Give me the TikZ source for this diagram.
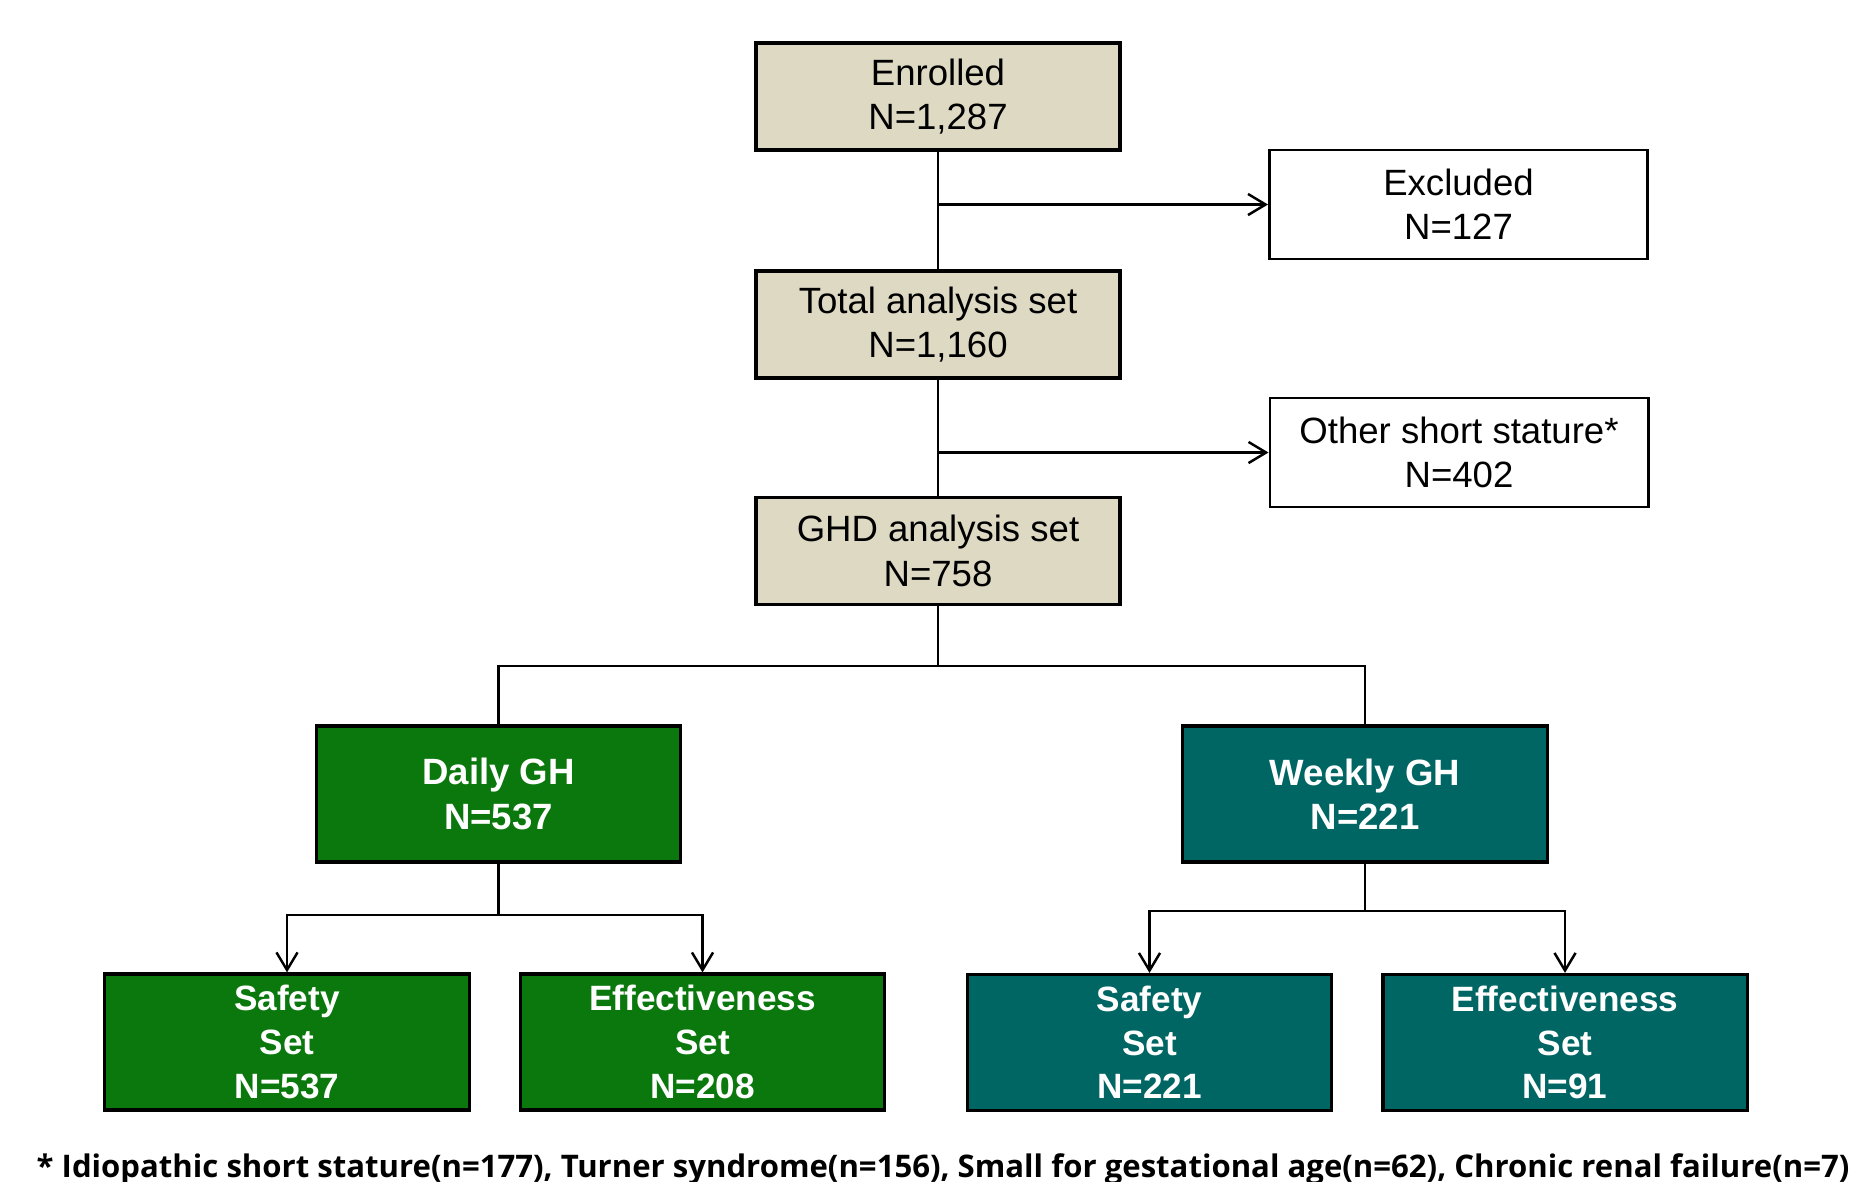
\documentclass[tikz,border=0pt]{standalone}
\usepackage{fontspec}
\setmainfont{Liberation Sans}
\newfontfamily\notefont{Open Sans}
\usetikzlibrary{arrows.meta}

\definecolor{boxtan}{HTML}{DDD9C3}
\definecolor{boxgreen}{RGB}{10,120,12}
\definecolor{boxteal}{RGB}{0,102,100}

\begin{document}
\begin{tikzpicture}[x=0.01cm,y=-0.01cm]
\useasboundingbox[fill=white] (0,0) rectangle (1858,1181);
\begin{scope}[every node/.style={rectangle,draw,line width=1pt,fill=boxtan,
              minimum width=3.64cm,minimum height=1.07cm,inner sep=0pt,
              align=center,font=\fontsize{10.4}{12.6}\selectfont}]
    \node (A1) at (938,96.5) {Enrolled\\N=1,287};
    \node (A2) at (938,324.5) {Total analysis set\\N=1,160};
    \node (A3) at (938,551) {GHD analysis set\\N=758};
\end{scope}
\begin{scope}[every node/.style={rectangle,draw,line width=0.8pt,fill=white,
              minimum width=3.78cm,minimum height=1.09cm,inner sep=0pt,
              align=center,font=\fontsize{10.4}{12.6}\selectfont}]
    \node (X1) at (1458.5,204.5) {Excluded\\N=127};
    \node (X2) at (1459,452.5) {Other short stature*\\N=402};
\end{scope}
\begin{scope}[every node/.style={rectangle,draw,line width=0.9pt,text=white,
              minimum width=3.64cm,minimum height=1.36cm,inner sep=0pt,
              align=center,font=\fontsize{10.4}{12.6}\selectfont\bfseries}]
    \node[fill=boxgreen] (B1) at (498.5,794) {Daily GH\\N=537};
    \node[fill=boxteal] (B2) at (1365,794) {Weekly GH\\N=221};
\end{scope}
\begin{scope}[every node/.style={rectangle,draw,line width=0.9pt,text=white,
              minimum width=3.64cm,minimum height=1.36cm,inner sep=0pt,
              align=center,font=\fontsize{10}{12.4}\selectfont\bfseries}]
    \node[fill=boxgreen] (C1) at (287,1042) {Safety\\Set\\N=537};
    \node[fill=boxgreen] (C2) at (702.5,1042) {Effectiveness\\Set\\N=208};
    \node[fill=boxteal] (C3) at (1149.5,1042.5) {Safety\\Set\\N=221};
    \node[fill=boxteal] (C4) at (1565,1042.5) {Effectiveness\\Set\\N=91};
\end{scope}
% junctions
\coordinate (J1) at (938,666);
\coordinate (J2) at (498.5,915);
\coordinate (J3) at (1365,911);
\begin{scope}[line width=0.7pt,>={Straight Barb[length=5pt,width=6pt]}]
    \draw (A1) -- (A2);
    \draw (A2) -- (A3);
    \draw[->] (A1.south |- X1.west) -- (X1.west);
    \draw[->] (A2.south |- X2.west) -- (X2.west);
    \draw (A3) -- (J1);
    \draw (J1) -| (B1.north);
    \draw (J1) -| (B2.north);
    \draw (B1) -- (J2);
    \draw[->] (J2) -| (C1.north);
    \draw[->] (J2) -| (C2.north);
    \draw (B2) -- (J3);
    \draw[->] (J3) -| (C3.north);
    \draw[->] (J3) -| (C4.north);
\end{scope}
\node[anchor=base west,inner sep=0pt,font=\notefont\bfseries\fontsize{8.85}{10}\selectfont] (N1) at (36,1177)
    {* Idiopathic short stature(n=177), Turner syndrome(n=156), Small for gestational age(n=62), Chronic renal failure(n=7)};
\end{tikzpicture}
\end{document}
